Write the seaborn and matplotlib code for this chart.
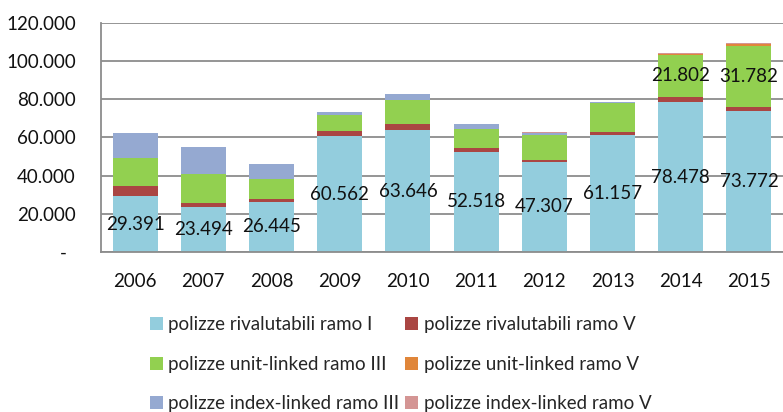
import pandas as pd
import matplotlib.pyplot as plt
import seaborn as sns
from matplotlib.patches import Patch

# Data
years = ["2006", "2007", "2008", "2009", "2010", "2011", "2012", "2013", "2014", "2015"]
riv_I = [29391, 23494, 26445, 60562, 63646, 52518, 47307, 61157, 78478, 73772]
riv_V = [5400, 2200, 1200, 2900, 3500, 1800, 900, 1500, 2900, 2300]
unit_III = [14400, 15000, 10600, 8000, 12600, 10000, 12800, 15500, 21802, 31782]
unit_V = [0, 0, 0, 0, 0, 0, 0, 0, 300, 1200]
index_III = [13000, 14100, 8100, 1700, 3100, 2500, 1300, 200, 200, 0]
index_V = [0, 0, 0, 0, 0, 0, 400, 0, 300, 200]

series_names = [
    "polizze rivalutabili ramo I",
    "polizze rivalutabili ramo V",
    "polizze unit-linked ramo III",
    "polizze unit-linked ramo V",
    "polizze index-linked ramo III",
    "polizze index-linked ramo V",
]
colors = ["#93CDDD", "#AA4643", "#92D050", "#E0863A", "#95A9D1", "#D49594"]

sns.set_style("white")
plt.rcParams["font.family"] = ["Lato", "DejaVu Sans"]

df = pd.DataFrame(
    {
        "year": years,
        series_names[0]: riv_I,
        series_names[1]: riv_V,
        series_names[2]: unit_III,
        series_names[3]: unit_V,
        series_names[4]: index_III,
        series_names[5]: index_V,
    }
)
cum = df[series_names].cumsum(axis=1)

fig = plt.figure(figsize=(7.83, 4.12), dpi=100)
ax = fig.add_axes([0.129, 0.388, 0.871, 0.557])

# stacked bars: draw cumulative totals from the top series down
for name, col in reversed(list(zip(series_names, colors))):
    sns.barplot(x=df["year"], y=cum[name], color=col, width=0.66,
                saturation=1, edgecolor="none", linewidth=0, ax=ax, zorder=2)

# value labels
for i, v in enumerate(riv_I):
    ax.text(i, v / 2, f"{v:,}".replace(",", "."), ha="center", va="center",
            fontsize=13.5, color="#111111", zorder=5)
for i in (8, 9):
    base = riv_I[i] + riv_V[i]
    ax.text(i, base + unit_III[i] / 2, f"{unit_III[i]:,}".replace(",", "."),
            ha="center", va="center", fontsize=13.5, color="#111111", zorder=5)

ax.set_ylim(0, 120000)
ax.set_xlim(-0.5, 9.5)
ticks = list(range(0, 120001, 20000))
ax.set_yticks(ticks)
ax.set_yticklabels(["-  "] + [f"{t:,}".replace(",", ".") for t in ticks[1:]])
ax.yaxis.grid(True, color="#8C8C8C", linewidth=1.3, zorder=0)
ax.set_axisbelow(True)
ax.set_xlabel("")
ax.set_ylabel("")
ax.tick_params(axis="both", labelsize=13.5, length=0, colors="#111111")
ax.tick_params(axis="x", pad=15)
ax.tick_params(axis="y", pad=18)
for s in ["top", "right"]:
    ax.spines[s].set_visible(False)
for s in ["left", "bottom"]:
    ax.spines[s].set_color("#8C8C8C")
    ax.spines[s].set_linewidth(1.3)

handles = [Patch(facecolor=c, edgecolor="none") for c in colors]
order = [0, 2, 4, 1, 3, 5]
fig.legend([handles[i] for i in order], [series_names[i] for i in order],
           ncol=2, loc="upper left", bbox_to_anchor=(0.191, 0.232),
           frameon=False, fontsize=13.5, handlelength=0.7, handleheight=0.7,
           handletextpad=0.3, columnspacing=0.3, labelspacing=1.2,
           borderaxespad=0, borderpad=0)

fig.savefig("out.png", dpi=100)
